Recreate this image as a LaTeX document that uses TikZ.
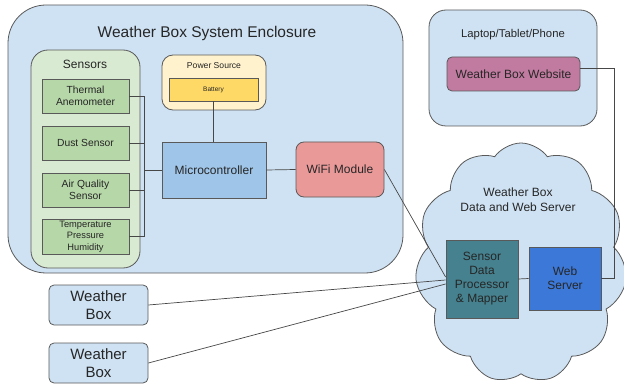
\documentclass[tikz,border=0pt]{standalone}
\usepackage{fontspec}
\setmainfont{Liberation Sans}
\usetikzlibrary{shapes.symbols}
\definecolor{encfill}{HTML}{CFE2F3}
\definecolor{bordc}{HTML}{595959}
\definecolor{sgfill}{HTML}{D9EAD3}
\definecolor{sbfill}{HTML}{B6D7A8}
\definecolor{pwfill}{HTML}{FFF2CC}
\definecolor{batfill}{HTML}{FFD966}
\definecolor{mcfill}{HTML}{9FC5E8}
\definecolor{wififill}{HTML}{EA9999}
\definecolor{webfill}{HTML}{C27BA0}
\definecolor{sdpfill}{HTML}{45818E}
\definecolor{wsfill}{HTML}{3C78D8}
\definecolor{txt}{HTML}{262626}
\tikzset{
  box/.style={draw=bordc, line width=0.8pt, inner sep=0pt, align=center, text=txt, font=\fontsize{12}{14}\selectfont},
  sensbox/.style={box, fill=sbfill, minimum width=87pt, minimum height=34pt, font=\fontsize{10.3}{12.5}\selectfont},
  conn/.style={draw=bordc!80!black, line width=0.7pt},
  lbl/.style={inner sep=0pt, text=txt, align=center}
}
\begin{document}
\begin{tikzpicture}[x=1pt,y=-1pt]
\useasboundingbox (0,0) rectangle (624,385);
% enclosure
\node[box, fill=encfill, rounded corners=38pt, minimum width=395pt, minimum height=268pt] (encl) at (205.5,139) {};
\node[lbl, font=\fontsize{15.5}{18}\selectfont] (encltitle) at (207,33) {Weather Box System Enclosure};
% sensors group
\node[box, fill=sgfill, rounded corners=17pt, minimum width=109pt, minimum height=218pt] (sgroup) at (85.5,159) {};
\node[lbl, font=\fontsize{12}{14}\selectfont] (sgtitle) at (85,64) {Sensors};
\node[sensbox] (s1) at (85.5,96) {Thermal\\Anemometer};
\node[sensbox] (s2) at (85.5,143) {Dust Sensor};
\node[sensbox] (s3) at (85.5,190) {Air Quality\\Sensor};
\node[sensbox, minimum height=35pt, font=\fontsize{9.3}{11.5}\selectfont] (s4) at (85.5,236.5) {Temperature\\Pressure\\Humidity};
% power
\node[box, fill=pwfill, rounded corners=11pt, minimum width=104pt, minimum height=55pt] (power) at (214,82.5) {};
\node[lbl, font=\fontsize{8.6}{10}\selectfont] (powtitle) at (214,66) {Power Source};
\node[box, fill=batfill, minimum width=89pt, minimum height=23pt, font=\fontsize{6.5}{8}\selectfont] (bat) at (213.5,89.5) {Battery};
% micro, wifi
\node[box, fill=mcfill, minimum width=104pt, minimum height=56pt] (mc) at (214,170) {Microcontroller};
\node[box, fill=wififill, rounded corners=8pt, minimum width=88pt, minimum height=55pt] (wifi) at (340,169.5) {WiFi Module};
% laptop
\node[box, fill=encfill, rounded corners=17pt, minimum width=168pt, minimum height=116pt] (laptop) at (513,68) {};
\node[lbl, font=\fontsize{11.3}{13}\selectfont] (laptitle) at (513,35) {Laptop/Tablet/Phone};
\node[box, fill=webfill, rounded corners=5pt, minimum width=133pt, minimum height=34pt] (website) at (513.5,74) {Weather Box Website};
% cloud
\node[draw=bordc, line width=0.8pt, fill=encfill, cloud, cloud puffs=11, cloud puff arc=110, aspect=0.85, minimum width=212pt, minimum height=240pt, inner sep=0pt] (cloud) at (521,263) {};
\node[lbl, font=\fontsize{12}{14.5}\selectfont] (cloudtitle) at (518,199.5) {Weather Box\\Data and Web Server};
\node[box, fill=sdpfill, minimum width=72pt, minimum height=78pt] (sdp) at (482,279) {Sensor\\Data\\Processor\\\& Mapper};
\node[box, fill=wsfill, minimum width=72pt, minimum height=63pt] (ws) at (565,278.5) {Web\\Server};
% weather boxes
\node[box, fill=encfill, rounded corners=5pt, minimum width=99pt, minimum height=40pt, font=\fontsize{15}{18}\selectfont] (wb1) at (98.5,305) {Weather\\Box};
\node[box, fill=encfill, rounded corners=5pt, minimum width=99pt, minimum height=40pt, font=\fontsize{15}{18}\selectfont] (wb2) at (98.5,363) {Weather\\Box};
% connectors
\coordinate (bus) at (144,170);
\draw[conn] (s1.east) -| (bus);
\draw[conn] (s2.east) -| (bus);
\draw[conn] (s3.east) -| (bus);
\draw[conn] (s4.east) -| (bus);
\draw[conn] (bus) -- (mc.west);
\draw[conn] (bat.south) -- (bat.south |- mc.north);
\draw[conn] (mc.east) -- (wifi.west);
\draw[conn] (wifi.east) -- ([yshift=2pt]sdp.west);
\draw[conn] (wb1.east) -- ([yshift=-1pt]sdp.west);
\draw[conn] (wb2.east) -- ([yshift=-5pt]sdp.west);
\draw[conn] (sdp.east) -- (ws.west);
\draw[conn] ([yshift=6pt]website.east) -- ++(34,0) |- (ws.east);
\end{tikzpicture}
\end{document}
